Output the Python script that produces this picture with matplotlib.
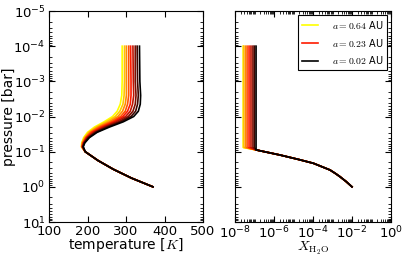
import numpy as np
import matplotlib
matplotlib.use('Agg')
import matplotlib.pyplot as plt
from matplotlib.colors import LinearSegmentedColormap
from matplotlib.ticker import LogLocator, FixedLocator, NullFormatter

plt.rcParams['mathtext.fontset'] = 'cm'
plt.rcParams['font.size'] = 10
plt.rcParams['xtick.labelsize'] = 9.5
plt.rcParams['ytick.labelsize'] = 9.5
plt.rcParams['xtick.direction'] = 'in'
plt.rcParams['ytick.direction'] = 'in'
plt.rcParams['xtick.top'] = True
plt.rcParams['ytick.right'] = True
plt.rcParams['xtick.major.pad'] = 2
plt.rcParams['ytick.major.pad'] = 2.5

# log10 pressure [bar] grid for the upper (curve dependent) part
logp_upper = [-4.0, -3.0, -2.6, -2.35, -2.15, -2.0, -1.85, -1.7, -1.55, -1.4, -1.25, -1.14]
# temperature [K], one row per orbit, from a=0.64 AU (yellow) to a=0.02 AU (black)
t_upper = [
    [290, 290, 289, 285, 277, 265, 243, 218, 200, 190, 185, 184],
    [296, 296, 295, 292, 284, 272, 249, 223, 203, 192, 186, 185],
    [301, 301, 301, 298, 291, 279, 256, 227, 206, 194, 187, 185],
    [307, 307, 307, 304, 298, 286, 262, 232, 209, 196, 188, 186],
    [312, 313, 313, 311, 304, 292, 268, 237, 212, 197, 189, 186],
    [318, 319, 320, 317, 311, 299, 274, 242, 216, 199, 190, 187],
    [324, 324, 326, 324, 318, 306, 281, 247, 219, 201, 191, 188],
    [329, 330, 332, 330, 325, 313, 287, 252, 222, 203, 192, 188],
    [335, 336, 338, 337, 332, 320, 293, 257, 225, 205, 193, 189],
]
# common lower (adiabatic) part
logp_lower = [-1.0, -0.75, -0.5, -0.25, 0.0]
t_lower = [194, 227, 267, 314, 370]

# water mixing ratio: cold-trapped value above the tropopause, per orbit
logx_top = [-7.58, -7.56, -7.47, -7.38, -7.28, -7.18, -7.08, -7.00, -6.92]
logp_trap = -1.12
# common lower branch
logp_xbranch = [-1.05, -0.905, -0.78, -0.67, -0.48, -0.38, -0.29, -0.15, 0.0]
logx_branch = [-6.92, -5.69, -4.75, -3.98, -3.13, -2.85, -2.62, -2.3, -2.0]

labels = ['$a=0.64$ AU', None, None, None, '$a=0.23$ AU', None, None, None, '$a=0.02$ AU']

cmap = LinearSegmentedColormap.from_list('yrk', ['#ffff00', '#ff1a00', '#000000'])
n = len(t_upper)
colors = [cmap(i / (n - 1.)) for i in range(n)]

fig = plt.figure(figsize=(4.07, 2.61), dpi=100)
ax1 = fig.add_axes([0.1204, 0.1494, 0.3784, 0.8084])
ax2 = fig.add_axes([0.5774, 0.1494, 0.3833, 0.8084])

for i in range(n):
    p = 10.**np.array(logp_upper + logp_lower)
    T = np.array(t_upper[i] + t_lower)
    ax1.plot(T, p, color=colors[i], lw=1.2)

    px = 10.**np.array([-4.0, logp_trap] + logp_xbranch)
    xx = 10.**np.array([logx_top[i], logx_top[i]] + logx_branch)
    ax2.plot(xx, px, color=colors[i], lw=1.2, label=labels[i])

for ax in (ax1, ax2):
    ax.set_yscale('log')
    ax.set_ylim(1e1, 1e-5)
    ax.yaxis.set_major_locator(LogLocator(base=10, numticks=20))
    ax.yaxis.set_minor_locator(LogLocator(base=10, subs=np.arange(2, 10), numticks=20))
    ax.tick_params(which='major', length=4, width=0.8)
    ax.tick_params(which='minor', length=2, width=0.6)

ax1.set_xlim(100, 500)
ax1.xaxis.set_major_locator(FixedLocator([100, 200, 300, 400, 500]))
ax1.set_xlabel('temperature [$K$]', labelpad=-1)
ax1.set_ylabel('pressure [bar]')
ax1.yaxis.set_label_coords(-0.215, 0.5)

ax2.set_xscale('log')
ax2.set_xlim(1e-8, 1e0)
ax2.xaxis.set_major_locator(FixedLocator([1e-8, 1e-6, 1e-4, 1e-2, 1e0]))
ax2.xaxis.set_minor_locator(LogLocator(base=10, subs=np.arange(1, 10), numticks=40))
ax2.xaxis.set_minor_formatter(NullFormatter())
ax2.yaxis.set_ticklabels([], minor=False)
ax2.yaxis.set_minor_formatter(NullFormatter())
ax2.set_xlabel(r'$X_{\rm H_2O}$', labelpad=-1)

leg = ax2.legend(loc='upper right', fontsize=7, fancybox=False, framealpha=1,
                 edgecolor='black', handlelength=1.7, handletextpad=1.4,
                 labelspacing=0.6, borderaxespad=0.4)
leg.get_frame().set_linewidth(0.8)

fig.savefig('out.png', dpi=100)
